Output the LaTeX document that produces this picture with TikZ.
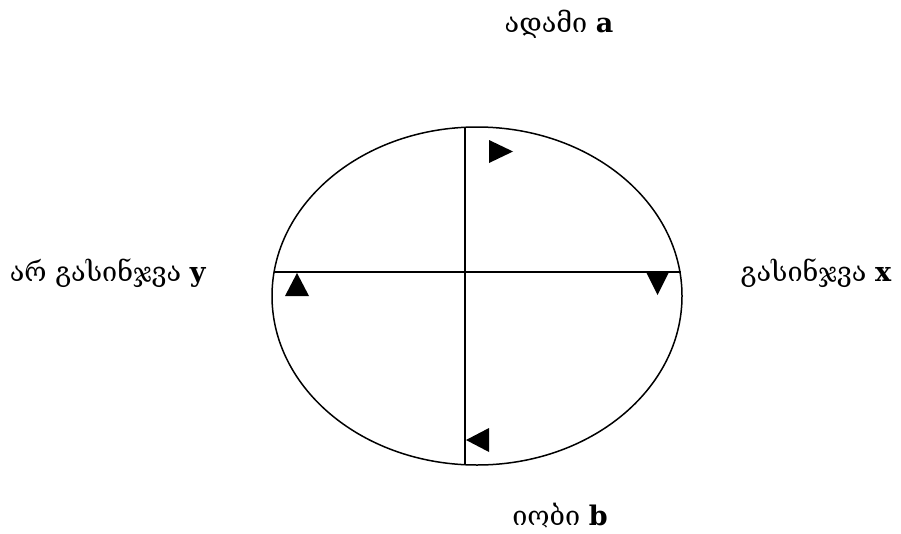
\documentclass[tikz,border=0pt]{standalone}
\usepackage{fontspec}
\setmainfont{DejaVu Serif}
\usetikzlibrary{shapes.geometric}
\tikzset{
  lbl/.style={anchor=base, inner sep=0pt, font=\fontsize{27}{32}\selectfont},
  ln/.style={line width=1.5pt},
  tri/.style={fill=black}
}
\begin{document}
\begin{tikzpicture}[x=1pt,y=-1pt]
\useasboundingbox (0,0) rectangle (901,533);
\node[ellipse, draw, line width=1.5pt, minimum width=410pt, minimum height=338pt, inner sep=0pt] (e) at (477,296) {};
\coordinate (vt) at (465,127.5);
\coordinate (vb) at (465,464);
\coordinate (hl) at (273.5,272);
\coordinate (hr) at (681,272);
\draw[ln] (vt) -- (vb);
\draw[ln] (hl) -- (hr);
\fill[tri] (489,140) -- (489,163) -- (513,151.5) -- cycle;
\fill[tri] (285,296) -- (309,296) -- (297,273) -- cycle;
\fill[tri] (646,272) -- (669,272) -- (657.5,295) -- cycle;
\fill[tri] (489,428) -- (489,452) -- (466,440) -- cycle;
\node[lbl] (a) at (559,32) {ადამი \textbf{a}};
\node[lbl] (y) at (108,281) {არ გასინჯვა \textbf{y}};
\node[lbl] (x) at (816,281) {გასინჯვა \textbf{x}};
\node[lbl] (b) at (560,525) {იობი \textbf{b}};
\end{tikzpicture}
\end{document}
